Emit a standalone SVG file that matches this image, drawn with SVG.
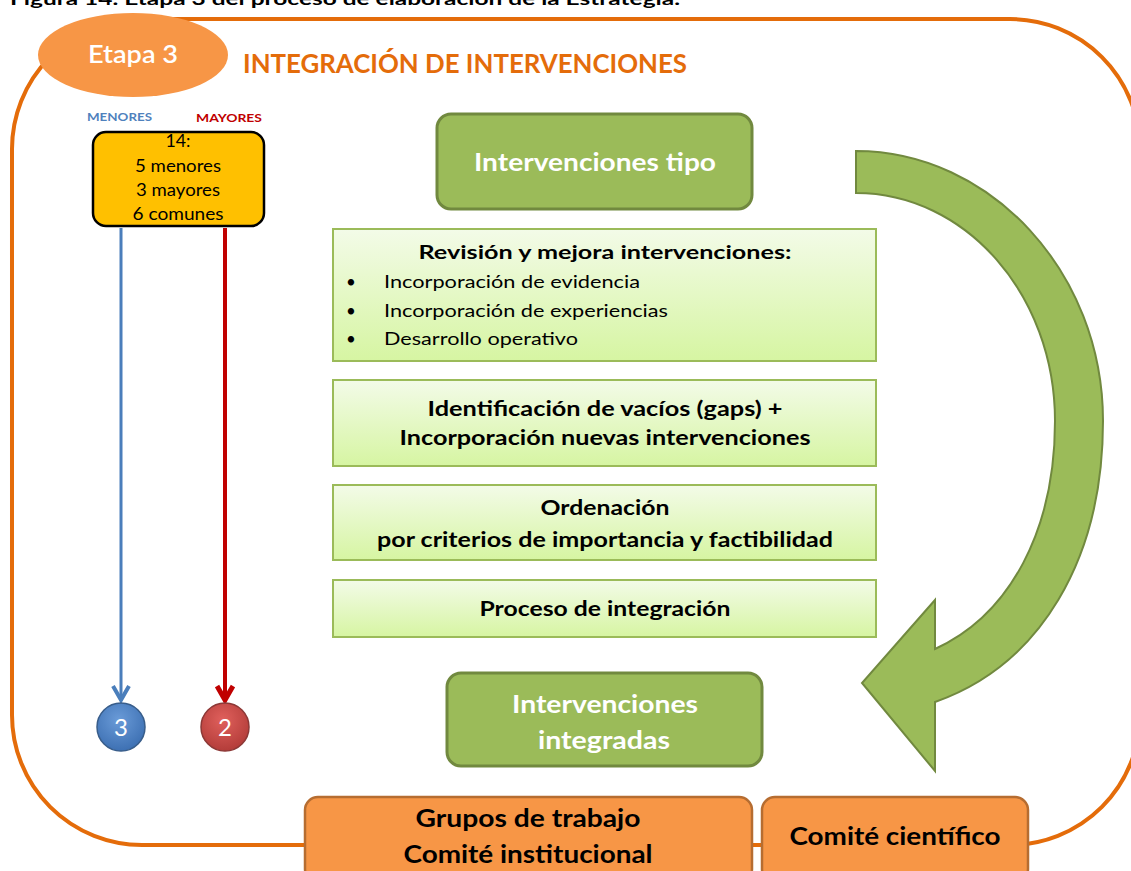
<svg xmlns="http://www.w3.org/2000/svg" width="1131" height="871" viewBox="0 0 1131 871">
<style>
text{font-family:Lato,"Open Sans","Liberation Sans",sans-serif}
.b{font-weight:bold}
.c{text-anchor:middle}
.w{fill:#FFFFFF}
.k{fill:#000000}
.gbox{fill:#9BBB59;stroke:#71893F;stroke-width:3}
.lbox{fill:url(#lg);stroke:#9BBB59;stroke-width:2}
.obox{fill:#F79646;stroke:#B66D31;stroke-width:2.5}
</style>
<defs>
<linearGradient id="lg" x1="0" y1="0" x2="0" y2="1">
<stop offset="0" stop-color="#F3FBE8"/>
<stop offset="1" stop-color="#D6F5A2"/>
</linearGradient>
<radialGradient id="bg" cx="0.45" cy="0.35" r="0.7">
<stop offset="0" stop-color="#6A9BD8"/>
<stop offset="1" stop-color="#3A6DB0"/>
</radialGradient>
<radialGradient id="rg" cx="0.45" cy="0.35" r="0.7">
<stop offset="0" stop-color="#E0605C"/>
<stop offset="1" stop-color="#B03A37"/>
</radialGradient>
<marker id="ab" markerUnits="userSpaceOnUse" viewBox="0 0 20 20" refX="16" refY="10" markerWidth="20" markerHeight="20" orient="auto">
<path d="M2,2 L16,10 L2,18" fill="none" stroke="#4A7EBB" stroke-width="4"/>
</marker>
<marker id="ar" markerUnits="userSpaceOnUse" viewBox="0 0 20 20" refX="16" refY="10" markerWidth="20" markerHeight="20" orient="auto">
<path d="M2,2 L16,10 L2,18" fill="none" stroke="#C00000" stroke-width="5"/>
</marker>
</defs>

<text x="10" y="5" class="b k" font-size="17" textLength="670" lengthAdjust="spacingAndGlyphs">Figura 14. Etapa 3 del proceso de elaboración de la Estrategia.</text>

<g id="frame">
<path d="M142,19 L1010,19 A130,130 0 0 1 1140,149 L1140,715 A130,130 0 0 1 1010,845 L142,845 A130,130 0 0 1 12,715 L12,149 A130,130 0 0 1 142,19 Z" fill="none" stroke="#E46C0A" stroke-width="4"/>
</g>

<g id="etapa">
<ellipse cx="133" cy="55" rx="95" ry="42" fill="#F79646"/>
<text x="133" y="63" class="c w" font-size="24" font-weight="600" textLength="90" lengthAdjust="spacingAndGlyphs">Etapa 3</text>
</g>

<g id="title">
<text x="465" y="73" class="c b" font-size="27" fill="#E46C0A" textLength="444" lengthAdjust="spacingAndGlyphs">INTEGRACIÓN DE INTERVENCIONES</text>
</g>

<g id="labels">
<text x="119.5" y="121" class="c b" font-size="12" fill="#4F81BD" textLength="65" lengthAdjust="spacingAndGlyphs">MENORES</text>
<text x="229" y="122" class="c b" font-size="12" fill="#C00000" textLength="66" lengthAdjust="spacingAndGlyphs">MAYORES</text>
</g>

<g id="connectors">
<line x1="121" y1="228" x2="121" y2="700" stroke="#4A7EBB" stroke-width="3" marker-end="url(#ab)"/>
<line x1="225" y1="228" x2="225" y2="700" stroke="#C00000" stroke-width="4" marker-end="url(#ar)"/>
<path id="cycle" d="M856,151 C990,151 1103,272 1103,421 C1103,560 1040,665 935,702 L935,771 L862,683 L935,600 L935,649 C1010,615 1055,530 1055,421 C1055,294 965,193 856,193 Z" fill="#9BBB59" stroke="#71893F" stroke-width="2"/>
</g>

<g id="n14">
<rect x="93" y="132" width="171" height="94" rx="13" fill="#FFC000" stroke="#000000" stroke-width="2.5"/>
<text x="178" y="147" class="c k" font-size="17" textLength="25" lengthAdjust="spacingAndGlyphs">14:</text>
<text x="178" y="172" class="c k" font-size="17" textLength="86" lengthAdjust="spacingAndGlyphs">5 menores</text>
<text x="178" y="196" class="c k" font-size="17" textLength="84" lengthAdjust="spacingAndGlyphs">3 mayores</text>
<text x="178" y="220" class="c k" font-size="17" textLength="91" lengthAdjust="spacingAndGlyphs">6 comunes</text>
</g>

<g id="c3">
<circle cx="121" cy="727" r="24" fill="url(#bg)" stroke="#385D8A" stroke-width="1.5"/>
<text x="121" y="736" class="c w" font-size="24">3</text>
</g>
<g id="c2">
<circle cx="225" cy="727" r="24" fill="url(#rg)" stroke="#8C3836" stroke-width="1.5"/>
<text x="225" y="736" class="c w" font-size="24">2</text>
</g>

<g id="tipo">
<rect x="437" y="114" width="315" height="95" rx="14" class="gbox"/>
<text x="595" y="171" class="c w b" font-size="24" textLength="242" lengthAdjust="spacingAndGlyphs">Intervenciones tipo</text>
</g>

<g id="revision">
<rect x="333" y="229" width="543" height="132" class="lbox"/>
<text x="605" y="259" class="c b k" font-size="19" textLength="373" lengthAdjust="spacingAndGlyphs">Revisión y mejora intervenciones:</text>
<text x="346" y="288" class="k" font-size="17">•</text>
<text x="384" y="288" class="k" font-size="17" textLength="256" lengthAdjust="spacingAndGlyphs">Incorporación de evidencia</text>
<text x="346" y="317" class="k" font-size="17">•</text>
<text x="384" y="317" class="k" font-size="17" textLength="284" lengthAdjust="spacingAndGlyphs">Incorporación de experiencias</text>
<text x="346" y="345" class="k" font-size="17">•</text>
<text x="384" y="345" class="k" font-size="17" textLength="194" lengthAdjust="spacingAndGlyphs">Desarrollo operativo</text>
</g>

<g id="gaps">
<rect x="333" y="380" width="543" height="86" class="lbox"/>
<text x="605" y="416" class="c b k" font-size="20" textLength="355" lengthAdjust="spacingAndGlyphs">Identificación de vacíos (gaps) +</text>
<text x="605" y="445" class="c b k" font-size="20" textLength="411" lengthAdjust="spacingAndGlyphs">Incorporación nuevas intervenciones</text>
</g>

<g id="ordenacion">
<rect x="333" y="485" width="543" height="75" class="lbox"/>
<text x="605" y="515" class="c b k" font-size="20" textLength="129" lengthAdjust="spacingAndGlyphs">Ordenación</text>
<text x="605" y="547" class="c b k" font-size="20" textLength="456" lengthAdjust="spacingAndGlyphs">por criterios de importancia y factibilidad</text>
</g>

<g id="proceso">
<rect x="333" y="580" width="543" height="57" class="lbox"/>
<text x="605" y="616" class="c b k" font-size="20" textLength="251" lengthAdjust="spacingAndGlyphs">Proceso de integración</text>
</g>

<g id="integradas">
<rect x="447" y="673" width="315" height="93" rx="14" class="gbox"/>
<text x="605" y="713" class="c w b" font-size="24" textLength="186" lengthAdjust="spacingAndGlyphs">Intervenciones</text>
<text x="604" y="749" class="c w b" font-size="24" textLength="132" lengthAdjust="spacingAndGlyphs">integradas</text>
</g>

<g id="grupos">
<rect x="305" y="797" width="447" height="85" rx="13" class="obox"/>
<text x="528" y="827" class="c b k" font-size="24" textLength="225" lengthAdjust="spacingAndGlyphs">Grupos de trabajo</text>
<text x="528" y="863" class="c b k" font-size="24" textLength="249" lengthAdjust="spacingAndGlyphs">Comité institucional</text>
</g>

<g id="comite">
<rect x="762" y="797" width="266" height="85" rx="13" class="obox"/>
<text x="895" y="845" class="c b k" font-size="24" textLength="211" lengthAdjust="spacingAndGlyphs">Comité científico</text>
</g>
</svg>
